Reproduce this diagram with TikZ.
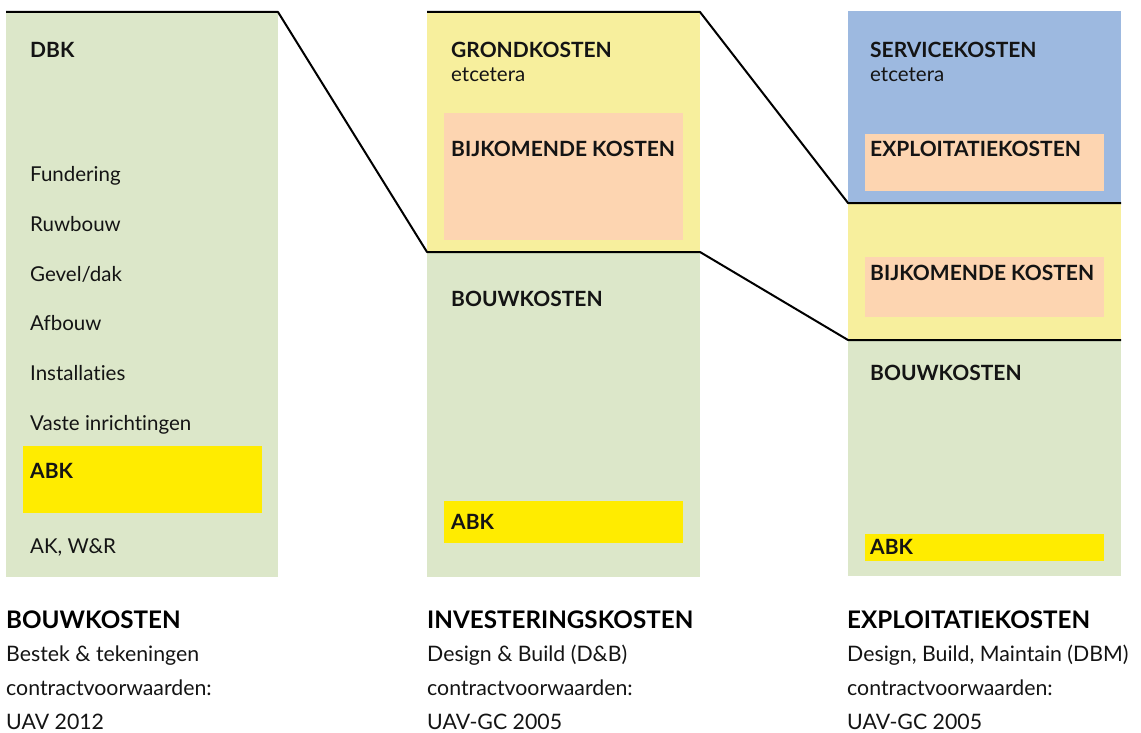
\documentclass[tikz,border=0pt]{standalone}
\usepackage{fontspec}
\setmainfont{Lato}[Ligatures=NoCommon]
\definecolor{cgreen}{RGB}{220,231,201}
\definecolor{cyellow}{RGB}{247,239,157}
\definecolor{cpink}{RGB}{253,213,177}
\definecolor{cblue}{RGB}{157,185,224}
\definecolor{cabk}{RGB}{255,236,0}
\definecolor{ctext}{RGB}{20,20,20}
\begin{document}
\begin{tikzpicture}[x=1pt,y=-1pt,
  box/.style={draw=none,rectangle,inner sep=0pt,outer sep=0pt,anchor=north west},
  lbl/.style={anchor=base west,inner sep=0pt,text=ctext,font=\fontsize{21}{24}\selectfont\bfseries},
  txt/.style={anchor=base west,inner sep=0pt,text=ctext,font=\fontsize{20.5}{24}\selectfont},
  ttl/.style={anchor=base west,inner sep=0pt,text=black,font=\fontsize{24.2}{28}\selectfont\bfseries},
  sub/.style={anchor=base west,inner sep=0pt,text=ctext,font=\fontsize{21.3}{24}\selectfont},
  edge/.style={draw=black,line width=2pt,line join=round}]
\useasboundingbox (0,0) rectangle (1141,733);
% column 1
\node[box,fill=cgreen,minimum width=272pt,minimum height=565pt] (c1) at (6,12) {};
\node[box,fill=cabk,minimum width=239pt,minimum height=67pt] (c1abk) at (23,446) {};
% column 2
\node[box,fill=cyellow,minimum width=273pt,minimum height=240pt] (c2y) at (427,12) {};
\node[box,fill=cgreen,minimum width=273pt,minimum height=325pt] (c2g) at (427,252) {};
\node[box,fill=cpink,minimum width=239pt,minimum height=127pt] (c2p) at (444,113) {};
\node[box,fill=cabk,minimum width=239pt,minimum height=42pt] (c2abk) at (444,501) {};
% column 3
\node[box,fill=cblue,minimum width=273pt,minimum height=192pt] (c3b) at (848,11) {};
\node[box,fill=cyellow,minimum width=273pt,minimum height=137pt] (c3y) at (848,203) {};
\node[box,fill=cgreen,minimum width=273pt,minimum height=236pt] (c3g) at (848,340) {};
\node[box,fill=cpink,minimum width=239pt,minimum height=57pt] (c3p1) at (865,134) {};
\node[box,fill=cpink,minimum width=239pt,minimum height=60pt] (c3p2) at (865,257) {};
\node[box,fill=cabk,minimum width=239pt,minimum height=27pt] (c3abk) at (865,534) {};
% connectors
\draw[edge] (c1.north west) -- (c1.north east) -- (c2y.south west) -- (c2y.south east) -- (c3y.south west) -- (c3y.south east);
\draw[edge] (c2y.north west) -- (c2y.north east) -- (c3b.south west) -- (c3b.south east);
% column 1 text
\node[lbl] (t1a) at (30,58) {DBK};
\node[txt] (t1b) at (30,182) {Fundering};
\node[txt] (t1c) at (30,231) {Ruwbouw};
\node[txt] (t1d) at (30,281) {Gevel/dak};
\node[txt] (t1e) at (30,330) {Afbouw};
\node[txt] (t1f) at (30,380) {Installaties};
\node[txt] (t1g) at (30,430) {Vaste inrichtingen};
\node[lbl] (t1h) at (30,478) {ABK};
\node[txt] (t1i) at (30,553) {AK, W\&R};
% column 2 text
\node[lbl] (t2a) at (451,58) {GRONDKOSTEN};
\node[txt] (t2b) at (451,82) {etcetera};
\node[lbl] (t2c) at (451,157) {BIJKOMENDE KOSTEN};
\node[lbl] (t2d) at (451,306) {BOUWKOSTEN};
\node[lbl] (t2e) at (451,529) {ABK};
% column 3 text
\node[lbl] (t3a) at (870,58) {SERVICEKOSTEN};
\node[txt] (t3b) at (870,82) {etcetera};
\node[lbl] (t3c) at (870,157) {EXPLOITATIEKOSTEN};
\node[lbl] (t3d) at (870,280) {BIJKOMENDE KOSTEN};
\node[lbl] (t3e) at (870,380) {BOUWKOSTEN};
\node[lbl] (t3f) at (870,554) {ABK};
% captions
\node[ttl] (k1a) at (6,628) {BOUWKOSTEN};
\node[sub] (k1b) at (6,661) {Bestek \& tekeningen};
\node[sub] (k1c) at (6,695) {contractvoorwaarden:};
\node[sub] (k1d) at (6,729) {UAV 2012};
\node[ttl] (k2a) at (427,628) {INVESTERINGSKOSTEN};
\node[sub] (k2b) at (427,661) {Design \& Build (D\&B)};
\node[sub] (k2c) at (427,695) {contractvoorwaarden:};
\node[sub] (k2d) at (427,729) {UAV-GC 2005};
\node[ttl] (k3a) at (847,628) {EXPLOITATIEKOSTEN};
\node[sub] (k3b) at (847,661) {Design, Build, Maintain (DBM)};
\node[sub] (k3c) at (847,695) {contractvoorwaarden:};
\node[sub] (k3d) at (847,729) {UAV-GC 2005};
\end{tikzpicture}
\end{document}
